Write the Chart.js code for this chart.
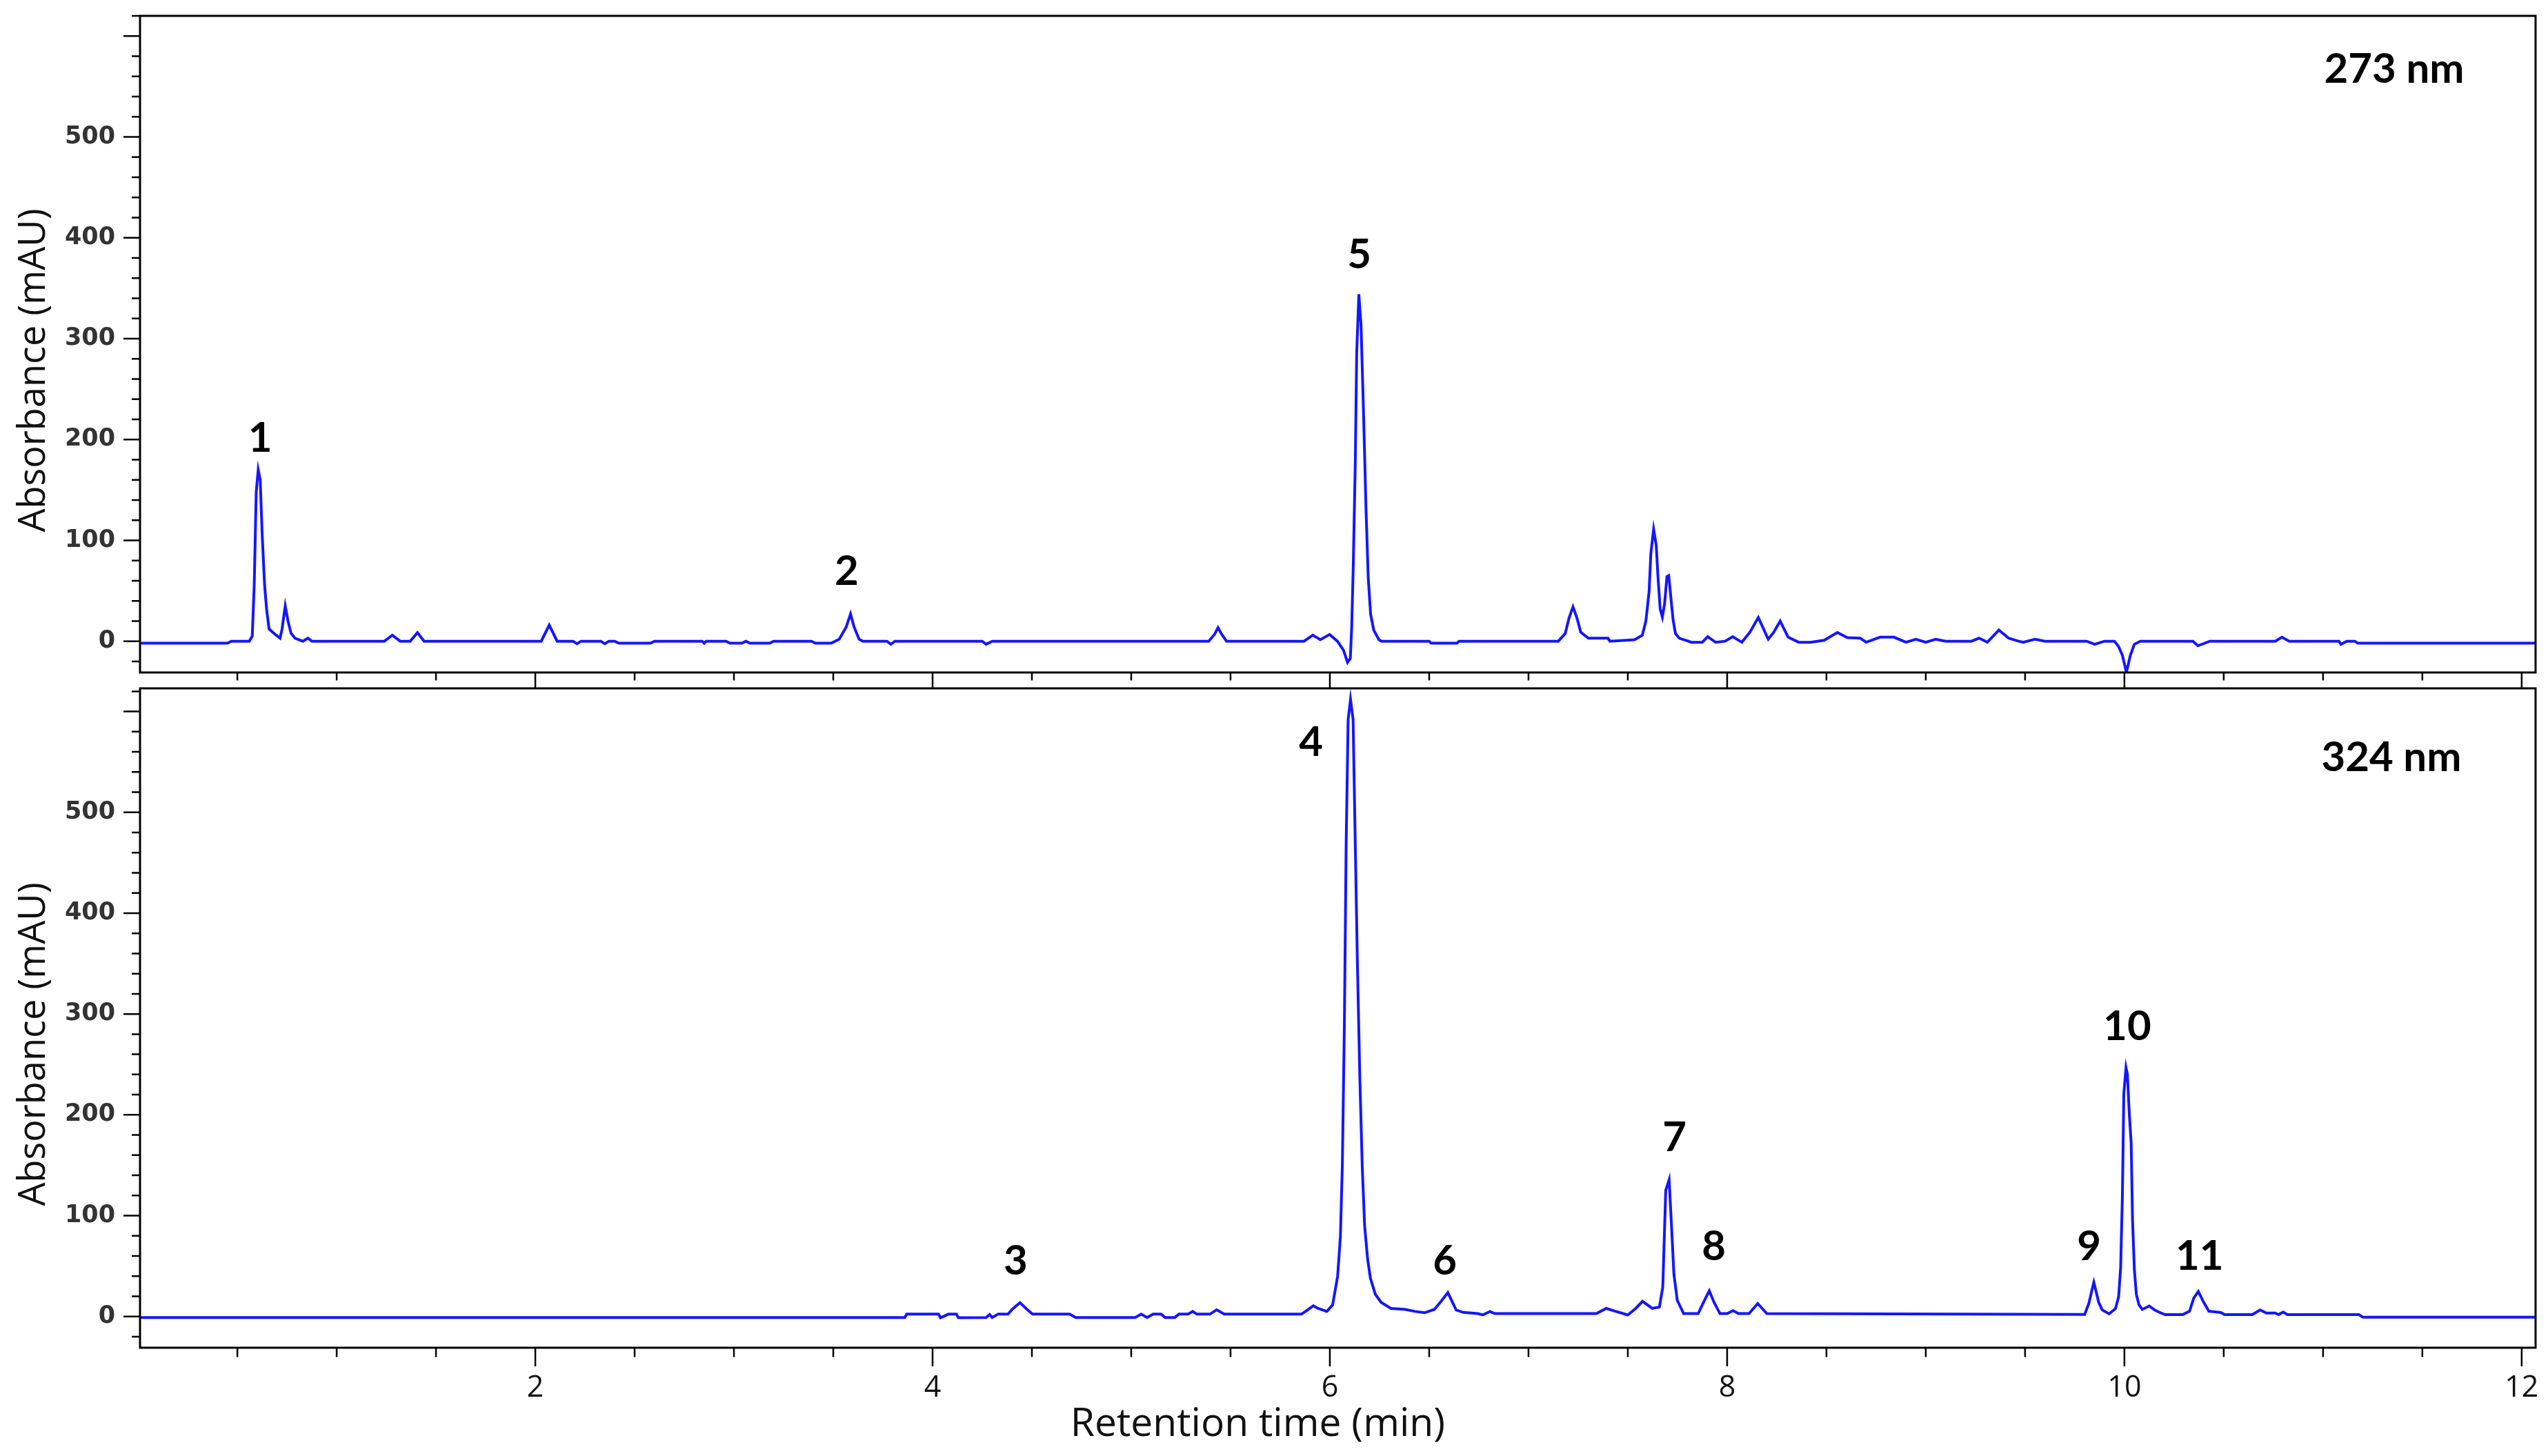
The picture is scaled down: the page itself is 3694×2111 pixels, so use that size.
<!DOCTYPE html>
<html>
<head>
<meta charset="utf-8">
<script src="https://cdn.jsdelivr.net/npm/chart.js@4.4.1/dist/chart.umd.min.js"></script>
<style>
html, body { margin: 0; padding: 0; background: #fff; overflow: hidden; }
canvas { position: absolute; left: 0; }
#top { top: 0; }
#bottom { top: 985px; }
</style>
</head>
<body>
<canvas id="top" width="3694" height="1000"></canvas>
<canvas id="bottom" width="3694" height="1126"></canvas>
<script>
// chromatogram at 273 nm: [retention time (min), absorbance (mAU)]
const trace273 = [
  [0,-2],[0.45,-2],[0.47,0],[0.56,0],[0.575,5],[0.585,56],[0.595,148],[0.605,170],[0.615,160],[0.625,106],
  [0.637,56],[0.648,30],[0.66,12],[0.695,6],[0.715,3],[0.725,12],[0.741,35],[0.755,20],[0.77,8],[0.79,3],
  [0.83,0],[0.855,3],[0.875,0],[1.24,0],[1.28,6],[1.32,0],[1.37,0],[1.407,8.5],[1.44,0],
  [2.03,0],[2.07,16],[2.11,0],[2.19,0],[2.21,-2.5],[2.23,0],[2.33,0],[2.35,-2.5],[2.37,0],[2.40,0],[2.42,-2],
  [2.58,-2],[2.60,0],[2.84,0],[2.85,-2],[2.86,0],[2.96,0],[2.98,-2],[3.04,-2],[3.06,0],[3.08,-2],[3.18,-2],
  [3.20,0],[3.39,0],[3.41,-2],[3.49,-2],[3.53,2],[3.565,14],[3.587,27],[3.605,14],[3.63,2],[3.65,0],
  [3.77,0],[3.79,-3],[3.81,0],[4.25,0],[4.27,-3],[4.30,0],
  [5.39,0],[5.42,7],[5.437,13.5],[5.455,7],[5.48,0],
  [5.87,0],[5.914,6],[5.952,1.5],[5.999,6.7],[6.038,0],[6.069,-9],[6.089,-21],[6.103,-17],[6.11,14],
  [6.118,76],[6.128,177],[6.135,285],[6.146,344],[6.157,313],[6.17,223],[6.182,131],[6.193,64],[6.205,27],
  [6.221,11],[6.247,1.5],[6.26,0],[6.50,0],[6.51,-2],[6.64,-2],[6.65,0],
  [7.15,0],[7.185,7.6],[7.204,23],[7.224,34],[7.244,23],[7.263,9],[7.301,3],[7.40,3],[7.41,0],
  [7.534,1.5],[7.573,6],[7.591,20],[7.607,49],[7.616,87],[7.63,111],[7.643,95],[7.653,60],[7.663,32],
  [7.674,24],[7.685,37],[7.697,64],[7.706,65],[7.717,43],[7.728,21],[7.74,7.6],[7.759,3],[7.805,0],
  [7.82,-1],[7.875,-1],[7.902,4.5],[7.942,-1],[7.99,0],[8.028,4.5],[8.074,-1],[8.114,8.7],[8.157,23.5],
  [8.207,2],[8.234,8.7],[8.267,20],[8.307,4],[8.36,-1],[8.42,-1],[8.489,1],[8.555,8.7],[8.605,3.6],
  [8.67,3],[8.70,-1],[8.77,4],[8.84,4],[8.90,-1],[8.95,2],[9.0,-1],[9.05,2],[9.1,0],[9.23,0],[9.268,3],
  [9.31,-1],[9.368,11],[9.417,3],[9.467,0],[9.49,-1],[9.55,2],[9.6,0],[9.81,0],[9.85,-3],[9.9,0],[9.95,0],
  [9.97,-5],[9.99,-14],[10.01,-31],[10.03,-14],[10.05,-3],[10.08,0],[10.345,0],[10.37,-4.5],[10.43,0],
  [10.76,0],[10.793,4],[10.83,0],[11.08,0],[11.09,-3],[11.12,0],[11.16,0],[11.175,-2],[12.07,-2]
];

// chromatogram at 324 nm
const trace324 = [
  [0,-1],[3.86,-1],[3.87,2.3],[4.03,2.3],[4.04,-1.3],[4.08,2.3],[4.12,2.3],[4.13,-1.3],[4.27,-1],[4.287,2],
  [4.30,-1],[4.33,2.3],[4.38,2.3],[4.402,7.3],[4.44,13.7],[4.474,7.3],[4.503,2.3],[4.69,2.3],[4.72,-1],
  [5.02,-1],[5.05,2.3],[5.08,-1],[5.11,2.3],[5.15,2.3],[5.17,-1],[5.22,-1],[5.24,2.3],[5.286,2.3],[5.31,5],
  [5.33,2.3],[5.396,2.3],[5.43,6.6],[5.468,2.3],[5.857,2.3],[5.886,6.2],[5.917,10.6],[5.94,8],[5.985,5],
  [6.014,11.5],[6.039,39.8],[6.053,79],[6.063,151],[6.073,288],[6.082,468],[6.092,592],[6.104,612],
  [6.117,592],[6.126,490],[6.138,357],[6.151,236],[6.163,149],[6.175,90],[6.19,57],[6.204,38],[6.229,22],
  [6.258,14],[6.307,8],[6.38,7],[6.428,5],[6.477,3.7],[6.526,7],[6.56,15],[6.594,23.7],[6.636,6.3],
  [6.672,4],[6.745,2.8],[6.77,1.5],[6.806,5],[6.83,2.8],[7.342,2.8],[7.391,8],[7.44,5],[7.5,1.5],[7.54,8],
  [7.574,15],[7.623,8],[7.659,9.3],[7.676,29],[7.691,125],[7.708,135.5],[7.72,90],[7.732,42],[7.749,16],
  [7.781,2.8],[7.854,2.8],[7.886,16],[7.91,25.4],[7.935,13.7],[7.964,2.8],[8.0,2.8],[8.03,5.8],[8.057,2.8],
  [8.11,2.8],[8.154,12.8],[8.2,2.8],[9.80,2],[9.821,13],[9.835,24.8],[9.846,33.9],[9.856,26],[9.87,14.3],
  [9.888,6.5],[9.923,2.6],[9.955,7.8],[9.971,19.5],[9.981,48.3],[9.99,121],[9.997,220.6],[10.008,246.8],
  [10.015,240],[10.025,199.8],[10.034,172.3],[10.041,95.3],[10.05,47],[10.06,22],[10.073,11.7],[10.09,7],
  [10.125,10.4],[10.152,6.5],[10.178,3.9],[10.205,1.8],[10.293,1.8],[10.328,5.2],[10.349,18.2],
  [10.372,24.8],[10.395,15.6],[10.425,5.2],[10.486,3.9],[10.504,1.8],[10.644,1.8],[10.683,6.5],
  [10.715,3.4],[10.759,3.4],[10.776,1.8],[10.799,4.4],[10.82,1.8],[11.181,1.8],[11.2,-0.8],[12.07,-0.8]
];

// peak numbers and panel captions, placed at (time, absorbance)
const labels273 = ['1', '2', '5', '273 nm'];
const labelTimes273 = [0.615, 3.567, 6.148, 11.358];
const labelLevels273 = [201, 69, 383, 567];
const labels324 = ['3', '4', '6', '7', '8', '9', '10', '11', '324 nm'];
const labelTimes324 = [4.418, 5.905, 6.579, 7.735, 7.933, 9.822, 10.014, 10.378, 11.344];
const labelLevels324 = [55, 569, 55, 177, 69, 69, 287, 59.5, 554];

const yTicks = [0, 100, 200, 300, 400, 500];
const xTicks = [2, 4, 6, 8, 10, 12];
const xTitle = 'Retention time (min)';
const yTitle = 'Absorbance (mAU)';

const lineColor = '#1515ff';

// frame, minor/major tick marks, titles and peak numbers
const framePlugin = {
  id: 'frame',
  afterDatasetsDraw(chart, args, opts) {
    const {ctx, chartArea: a, scales: {x, y}} = chart;
    ctx.save();
    ctx.strokeStyle = '#000';
    ctx.lineWidth = 3;
    ctx.strokeRect(a.left, a.top, a.right - a.left, a.bottom - a.top);

    ctx.lineWidth = 2.5;
    ctx.beginPath();
    for (let v = -20; v <= y.max; v += 20) {
      const py = y.getPixelForValue(v);
      const len = v % 100 === 0 ? 24 : 12;
      ctx.moveTo(a.left, py);
      ctx.lineTo(a.left - len, py);
    }
    for (let t = 0.5; t <= x.max; t += 0.5) {
      const px = x.getPixelForValue(t);
      const len = t % 2 === 0 ? opts.major : opts.minor;
      ctx.moveTo(px, a.bottom);
      ctx.lineTo(px, a.bottom + len);
    }
    ctx.stroke();

    // peak labels
    ctx.fillStyle = '#000';
    ctx.font = 'bold 60px Lato';
    ctx.textAlign = 'center';
    ctx.textBaseline = 'middle';
    opts.names.forEach((n, i) => {
      ctx.fillText(n, x.getPixelForValue(opts.times[i]), y.getPixelForValue(opts.levels[i]));
    });

    // y title
    ctx.font = '54px "Open Sans"';
    ctx.fillStyle = '#111';
    ctx.save();
    ctx.translate(50, (a.top + a.bottom) / 2 + 38);
    ctx.rotate(-Math.PI / 2);
    ctx.fillText(yTitle, 0, 0);
    ctx.restore();

    if (opts.showXTitle) {
      ctx.font = '57px "Open Sans"';
      ctx.fillText(xTitle, x.getPixelForValue(5.637), a.bottom + 112);
    }
    ctx.restore();
  }
};

function makeChart(id, trace, yMax, names, times, levels, bottom) {
  const ctx = document.getElementById(id).getContext('2d');
  return new Chart(ctx, {
    type: 'line',
    data: {
      datasets: [{
        data: trace.map(p => ({x: p[0], y: p[1]})),
        borderColor: lineColor,
        borderWidth: 4,
        pointRadius: 0,
        tension: 0,
        fill: false
      }]
    },
    options: {
      responsive: false,
      animation: false,
      devicePixelRatio: 1,
      layout: {padding: {top: bottom ? 13 : 23, right: 18, bottom: bottom ? 0 : 25, left: 0}},
      plugins: {
        legend: {display: false},
        tooltip: {enabled: false},
        frame: {
          names: names, times: times, levels: levels,
          major: bottom ? 27 : 22, minor: bottom ? 13.5 : 11.5,
          showXTitle: bottom
        }
      },
      scales: {
        x: {
          type: 'linear',
          min: 0.01,
          max: 12.07,
          display: bottom,
          grid: {display: false, drawTicks: false},
          border: {display: false},
          afterBuildTicks: s => { s.ticks = xTicks.map(v => ({value: v})); },
          afterFit: s => {
            s.height = bottom ? 157 : 0;
            s.paddingLeft = 0;
            s.paddingRight = 0;
          },
          ticks: {
            autoSkip: false, maxRotation: 0, padding: 33,
            color: '#111',
            font: {family: 'Open Sans', size: 43}
          }
        },
        y: {
          min: -31,
          max: yMax,
          grid: {display: false, drawTicks: false},
          border: {display: false},
          afterBuildTicks: s => { s.ticks = yTicks.map(v => ({value: v})); },
          afterFit: s => {
            s.width = 203;
            s.paddingTop = 0;
            s.paddingBottom = 0;
          },
          ticks: {
            padding: 36,
            color: '#333',
            font: {family: 'DejaVu Sans', size: 35, weight: 'bold'}
          }
        }
      }
    },
    plugins: [framePlugin]
  });
}

makeChart('top', trace273, 620, labels273, labelTimes273, labelLevels273, false);
makeChart('bottom', trace324, 623, labels324, labelTimes324, labelLevels324, true);
</script>
</body>
</html>
